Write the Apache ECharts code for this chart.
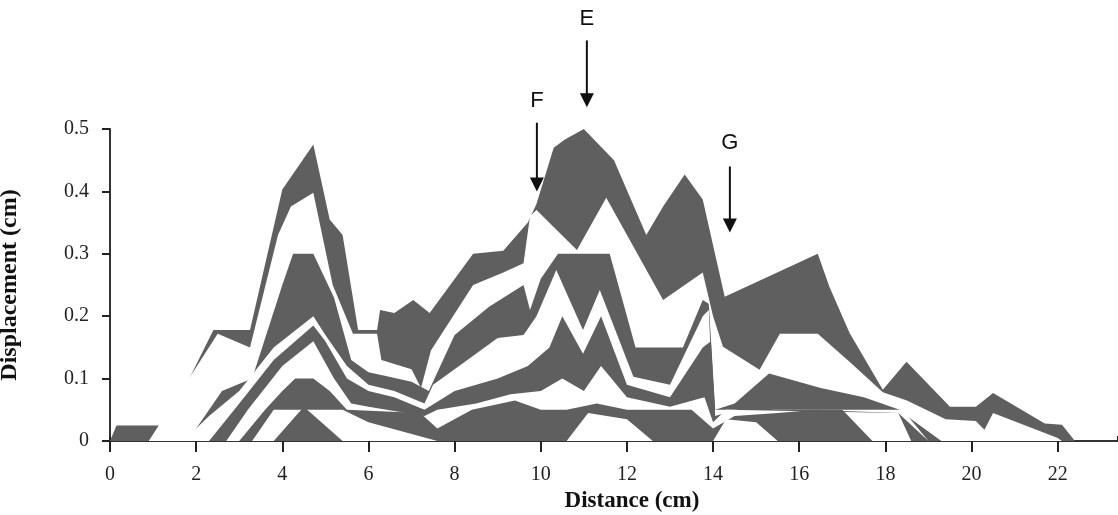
<!DOCTYPE html>
<html>
<head>
<meta charset="utf-8">
<script src="https://cdn.jsdelivr.net/npm/echarts@6/dist/echarts.min.js"></script>
<style>
html,body{margin:0;padding:0;background:#fff;}
#chart{width:1118px;height:515px;}
</style>
</head>
<body>
<div id="chart"></div>
<script>
// ---- data (distance cm, displacement cm) ----
const xTicks = [0,2,4,6,8,10,12,14,16,18,20,22];
const yTicks = [0,0.1,0.2,0.3,0.4,0.5];

// layers drawn in order; each fills from 0 to its curve (alternating grey / white)
const layer1 = [[0,0],[0.15,0.025],[1.3,0.025],[2.4,0.178],[3.25,0.178],[4.0,0.403],[4.72,0.475],[5.1,0.355],[5.4,0.33],[5.76,0.178],[6.2,0.178],[6.27,0.21],[6.6,0.205],[7.04,0.226],[7.42,0.205],[8.43,0.30],[9.13,0.305],[9.7,0.35],[9.9,0.38],[10.3,0.47],[10.56,0.483],[11.0,0.5],[11.7,0.45],[12.45,0.33],[12.84,0.376],[13.34,0.427],[13.76,0.387],[14.27,0.231],[16.43,0.30],[16.7,0.247],[17.17,0.173],[17.94,0.082],[18.49,0.127],[19.5,0.055],[20.1,0.055],[20.5,0.077],[21.7,0.028],[22.1,0.026],[22.4,0]];
const layer2 = [[0.9,0],[2.5,0.172],[3.25,0.15],[3.9,0.33],[4.2,0.376],[4.72,0.398],[5.17,0.25],[5.64,0.172],[6.2,0.172],[6.3,0.13],[7.0,0.115],[7.22,0.085],[7.45,0.145],[8.43,0.25],[9.13,0.27],[9.6,0.285],[9.75,0.36],[9.9,0.37],[10.84,0.306],[11.52,0.39],[12.84,0.226],[13.76,0.27],[14.0,0.2],[14.23,0.151],[15.08,0.114],[15.55,0.172],[16.43,0.172],[17.2,0.125],[17.94,0.078],[18.5,0.065],[19.4,0.035],[20.1,0.032],[20.3,0.018],[20.5,0.045],[22.0,0.005],[22.1,0]];
const layer3 = [[1.8,0],[2.6,0.08],[3.3,0.10],[4.0,0.25],[4.25,0.30],[4.72,0.30],[5.2,0.23],[5.6,0.13],[6.0,0.11],[6.35,0.105],[7.0,0.095],[7.4,0.08],[8.0,0.17],[8.8,0.215],[9.6,0.25],[9.75,0.21],[10.0,0.26],[10.4,0.30],[11.6,0.30],[12.2,0.15],[13.3,0.15],[13.76,0.226],[13.9,0.22],[14.05,0.05],[14.5,0.06],[15.3,0.108],[16.5,0.085],[17.5,0.07],[18.33,0.05],[18.5,0.04],[19.3,0]];
const layer4 = [[1.7,0],[2.3,0.04],[3.0,0.08],[3.8,0.15],[4.72,0.2],[5.0,0.17],[5.5,0.12],[6.0,0.09],[6.6,0.08],[7.3,0.06],[7.5,0.09],[8.2,0.125],[9.0,0.165],[9.6,0.17],[9.9,0.2],[10.36,0.274],[10.98,0.178],[11.37,0.242],[12.15,0.103],[13.0,0.09],[13.76,0.2],[13.9,0.21],[14.0,0.05],[18.4,0.05],[19.0,0]];
const layer5 = [[2.3,0],[3.0,0.06],[3.8,0.13],[4.72,0.185],[5.0,0.16],[5.5,0.1],[6.0,0.08],[6.6,0.07],[7.3,0.05],[8.0,0.08],[9.0,0.1],[9.7,0.12],[10.2,0.15],[10.5,0.2],[10.98,0.14],[11.4,0.2],[12.0,0.09],[13.0,0.07],[13.76,0.15],[13.95,0.16],[14.05,0.04],[15.0,0.06],[15.4,0.05],[16.4,0.05],[17.0,0.048],[18.3,0.045],[19.0,0]];
const layer6 = [[2.7,0],[3.2,0.05],[4.0,0.12],[4.72,0.16],[5.2,0.1],[5.6,0.06],[6.0,0.055],[7.3,0.04],[7.6,0.05],[8.5,0.06],[9.3,0.075],[10.0,0.08],[10.5,0.1],[11.0,0.08],[11.4,0.12],[12.0,0.07],[13.0,0.055],[13.8,0.07],[14.0,0.03],[14.3,0.05],[18.3,0.045],[18.6,0]];
const layer7 = [[3.0,0],[3.6,0.05],[4.0,0.08],[4.3,0.1],[4.72,0.1],[5.1,0.08],[5.5,0.05],[7.2,0.045],[7.6,0.02],[8.4,0.05],[9.4,0.065],[10.0,0.05],[10.6,0.05],[11.3,0.06],[12.0,0.05],[13.5,0.05],[14.0,0.02],[14.5,0.04],[15.5,0.045],[16.4,0.05],[17.0,0.05],[17.7,0]];
const layer8 = [[3.3,0],[3.8,0.05],[5.4,0.05],[6.0,0.03],[7.6,0.0],[10.6,0],[11.1,0.045],[12.0,0.035],[12.6,0],[14.0,0],[14.3,0.035],[15.0,0.03],[15.5,0]];
const layer9 = [[3.8,0],[4.5,0.055],[5.4,0]];

const layers = [layer1,layer2,layer3,layer4,layer5,layer6,layer7,layer8,layer9];

// annotations: label, x, label y, arrow tail y, arrow tip y (data units)
const annotLabels = ['E','F','G'];
const annotX = [11.07, 9.91, 14.39];
const annotLabelY = [0.676, 0.545, 0.478];
const annotTailY = [0.642, 0.51, 0.44];
const annotTipY = [0.535, 0.40, 0.334];

const GRAY = '#5f5f5f', WHITE = '#ffffff';
const chart = echarts.init(document.getElementById('chart'));

const series = layers.map((d,i)=>({
  type:'line', data:d, showSymbol:false, silent:true, animation:false,
  lineStyle:{width:0}, areaStyle:{color: i%2===0?GRAY:WHITE, opacity:1},
  z: 2
}));

chart.setOption({
  animation:false,
  grid:{left:110, right:0, top:129, bottom:74, containLabel:false, outerBoundsMode:'none'},
  xAxis:[
    {type:'value', min:0, max:23.4, interval:2, position:'bottom',
     axisLine:{lineStyle:{color:'#333',width:2}},
     axisTick:{length:11, lineStyle:{color:'#222',width:2}},
     axisLabel:{showMaxLabel:false, margin:24, color:'#222', fontFamily:'Liberation Serif', fontSize:20},
     splitLine:{show:false},
     name:'Distance (cm)', nameLocation:'middle', nameGap:48,
     nameTextStyle:{fontFamily:'Liberation Serif', fontWeight:'bold', fontSize:23, color:'#111', padding:[0,0,0,36]}},
    {type:'value', min:0, max:23.4, interval:2, position:'bottom',
     axisLine:{show:false}, axisTick:{inside:true, length:5, lineStyle:{color:'#222',width:2}},
     axisLabel:{show:false}, splitLine:{show:false}}
  ],
  yAxis:[
    {type:'value', min:0, max:0.5, interval:0.1,
     axisLine:{show:true, lineStyle:{color:'#333',width:2}},
     axisTick:{show:true, length:8, lineStyle:{color:'#222',width:2}},
     axisLabel:{margin:21, color:'#222', fontFamily:'Liberation Serif', fontSize:20,
       formatter:v=>v===0?'0':String(Math.round(v*10)/10)},
     splitLine:{show:false},
     name:'Displacement (cm)', nameLocation:'middle', nameGap:72,
     nameTextStyle:{fontFamily:'Liberation Serif', fontWeight:'bold', fontSize:24, color:'#111', padding:[0,0,16,0]}},
    {type:'value', min:0, max:0.5, interval:0.1,
     axisLine:{show:false}, axisTick:{show:true, inside:true, length:8, lineStyle:{color:'#222',width:2}},
     axisLabel:{show:false}, splitLine:{show:false}}
  ],
  series: series
});

// annotation arrows, positioned through the chart's own coordinate conversion
const g = [];
annotLabels.forEach((lab,i)=>{
  const pL = chart.convertToPixel({gridIndex:0},[annotX[i],annotLabelY[i]]);
  const pT = chart.convertToPixel({gridIndex:0},[annotX[i],annotTailY[i]]);
  const pH = chart.convertToPixel({gridIndex:0},[annotX[i],annotTipY[i]]);
  g.push({type:'text', x:pL[0], y:pL[1], style:{text:lab, fill:'#111', font:'22px "Liberation Sans"', align:'center', verticalAlign:'middle'}, z:100});
  g.push({type:'line', shape:{x1:pT[0],y1:pT[1],x2:pH[0],y2:pH[1]-10}, style:{stroke:'#111', lineWidth:2}, z:100});
  g.push({type:'polygon', shape:{points:[[pH[0]-7,pH[1]-14],[pH[0]+7,pH[1]-14],[pH[0],pH[1]]]}, style:{fill:'#111'}, z:100});
});
chart.setOption({graphic:g});
</script>
</body>
</html>
